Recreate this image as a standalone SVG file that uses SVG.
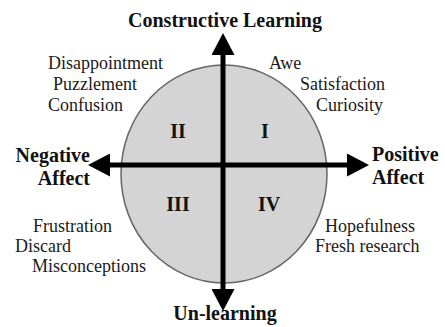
<svg xmlns="http://www.w3.org/2000/svg" width="445" height="327" viewBox="0 0 445 327">
<style>
.t{font-family:"Liberation Serif","Times New Roman",serif;font-size:18px;fill:#1a1a1a}
.b{font-family:"Liberation Serif","Times New Roman",serif;font-size:20px;font-weight:bold;fill:#111}
.ax{stroke:#000;stroke-width:5;fill:none}
</style>
<defs>
<marker id="ah" markerUnits="userSpaceOnUse" viewBox="0 0 22 23" markerWidth="22" markerHeight="23" refX="1" refY="11.5" orient="auto">
<path d="M0,0 L22,11.5 L0,23 z" fill="#000"/>
</marker>
</defs>
<rect width="445" height="327" fill="#fff"/>
<g id="circle"><ellipse cx="224" cy="174" rx="103" ry="109" fill="#d4d4d4" stroke="#666" stroke-width="1.5"/></g>
<g id="connectors">
<line class="ax" x1="223" y1="165" x2="223" y2="54" marker-end="url(#ah)"/>
<line class="ax" x1="223" y1="165" x2="223" y2="290" marker-end="url(#ah)"/>
<line class="ax" x1="223" y1="165" x2="109" y2="165" marker-end="url(#ah)"/>
<line class="ax" x1="223" y1="165" x2="348" y2="165" marker-end="url(#ah)"/>
</g>
<g id="top-label"><text class="b" x="225" y="27" text-anchor="middle">Constructive Learning</text></g>
<g id="bottom-label"><text class="b" x="225" y="320" text-anchor="middle">Un-learning</text></g>
<g id="left-label"><text class="b" x="90" y="162" text-anchor="end">Negative</text><text class="b" x="90" y="185" text-anchor="end">Affect</text></g>
<g id="right-label"><text class="b" x="372" y="161" >Positive</text><text class="b" x="372" y="184">Affect</text></g>
<g id="q1"><text class="b" x="265" y="138" text-anchor="middle">I</text></g>
<g id="q2"><text class="b" x="178" y="138" text-anchor="middle">II</text></g>
<g id="q3"><text class="b" x="178" y="211" text-anchor="middle">III</text></g>
<g id="q4"><text class="b" x="269" y="211" text-anchor="middle">IV</text></g>
<g id="q2-emotions">
<text class="t" x="48" y="69">Disappointment</text>
<text class="t" x="53" y="90">Puzzlement</text>
<text class="t" x="48" y="111">Confusion</text>
</g>
<g id="q1-emotions">
<text class="t" x="269" y="69">Awe</text>
<text class="t" x="385" y="90" text-anchor="end">Satisfaction</text>
<text class="t" x="383" y="111" text-anchor="end">Curiosity</text>
</g>
<g id="q3-emotions">
<text class="t" x="33" y="232">Frustration</text>
<text class="t" x="15" y="252">Discard</text>
<text class="t" x="32" y="272">Misconceptions</text>
</g>
<g id="q4-emotions">
<text class="t" x="325" y="232">Hopefulness</text>
<text class="t" x="315" y="252">Fresh research</text>
</g>
</svg>
